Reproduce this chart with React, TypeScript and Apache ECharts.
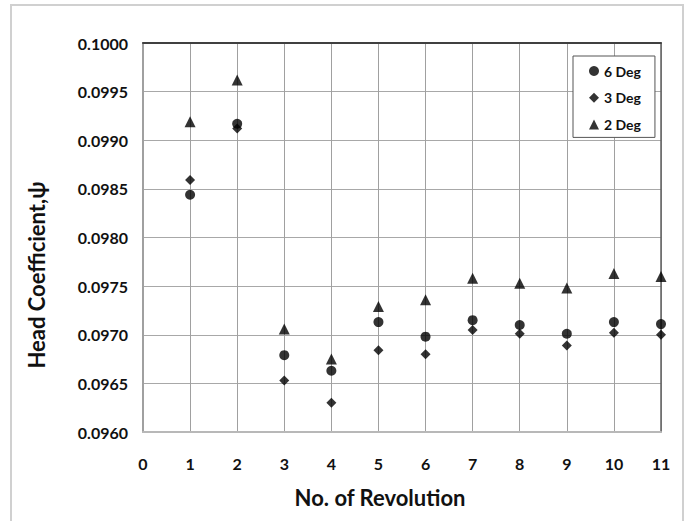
import React, { useEffect, useRef } from "react";
import * as echarts from "echarts";

const revolutions = [1, 2, 3, 4, 5, 6, 7, 8, 9, 10, 11];
const deg6 = [0.09844, 0.09917, 0.09679, 0.09663, 0.09713, 0.09698, 0.09715, 0.0971, 0.09701, 0.09713, 0.09711];
const deg3 = [0.09859, 0.09912, 0.09653, 0.0963, 0.09684, 0.0968, 0.09705, 0.09701, 0.09689, 0.09702, 0.097];
const deg2 = [0.09919, 0.09962, 0.09706, 0.09675, 0.09729, 0.09736, 0.09758, 0.09753, 0.09748, 0.09763, 0.0976];
const seriesNames = ["6 Deg", "3 Deg", "2 Deg"];
const xTitle = "No. of Revolution";
const yTitle = "Head Coefficient,ψ";

const FONT = "Lato, 'Open Sans', sans-serif";

export default function App() {
  const ref = useRef<HTMLDivElement>(null);
  useEffect(() => {
    if (!ref.current) return;
    const chart = echarts.init(ref.current, undefined, { renderer: "svg" });
    const pts = (arr: number[]) => revolutions.map((r, i) => [r, arr[i]]);
    chart.setOption({
      animation: false,
      backgroundColor: "#ffffff",
      grid: { left: 143, top: 43, right: 31, bottom: 89, containLabel: false },
      legend: {
        orient: "vertical",
        left: 573,
        top: 56,
        padding: [8, 14, 6, 16],
        itemGap: 12.7,
        itemWidth: 10,
        itemHeight: 10,
        backgroundColor: "#ffffff",
        borderColor: "#555555",
        borderWidth: 1,
        borderRadius: 0,
        data: seriesNames,
        textStyle: { fontFamily: FONT, fontWeight: "bold", fontSize: 14, lineHeight: 14, color: "#111" },
      },
      xAxis: [
        {
          type: "value",
          min: 0,
          max: 11,
          interval: 1,
          axisLine: { show: true, lineStyle: { color: "#b8b8b8", width: 2 } },
          axisTick: { show: false },
          axisLabel: { margin: 23, fontFamily: FONT, fontWeight: "bold", fontSize: 16, color: "#111" },
          splitLine: { show: true, lineStyle: { color: "#a0a0a0", width: 1 } },
        },
        {
          type: "value",
          position: "top",
          min: 0,
          max: 11,
          interval: 1,
          axisLine: { show: true, onZero: false, lineStyle: { color: "#404040", width: 2 } },
          axisTick: { show: false },
          axisLabel: { show: false },
          splitLine: { show: false },
        },
      ],
      yAxis: [
        {
          type: "value",
          min: 0.096,
          max: 0.1,
          interval: 0.0005,
          axisLine: { show: true, lineStyle: { color: "#a0a0a0", width: 2 } },
          axisTick: { show: false },
          axisLabel: {
            margin: 15,
            fontFamily: FONT,
            fontWeight: "bold",
            fontSize: 16,
            color: "#111",
            formatter: (v: number) => v.toFixed(4),
          },
          splitLine: { show: true, lineStyle: { color: "#a8a8a8", width: 1 } },
        },
        {
          type: "value",
          position: "right",
          min: 0.096,
          max: 0.1,
          interval: 0.0005,
          axisLine: { show: true, onZero: false, lineStyle: { color: "#606060", width: 1.5 } },
          axisTick: { show: false },
          axisLabel: { show: false },
          splitLine: { show: false },
        },
      ],
      graphic: [
        {
          type: "rect",
          shape: { x: 11, y: 5, width: 672, height: 540 },
          style: { fill: "none", stroke: "#d0d0d0", lineWidth: 2 },
          silent: true,
          z: -1,
        },
        {
          type: "text",
          x: 36,
          y: 275,
          rotation: Math.PI / 2,
          style: {
            text: yTitle,
            font: `bold 22px ${FONT}`,
            fill: "#111",
            textAlign: "center",
            textVerticalAlign: "middle",
          },
        },
        {
          type: "text",
          x: 380,
          y: 497,
          style: {
            text: xTitle,
            font: `bold 22px ${FONT}`,
            fill: "#111",
            textAlign: "center",
            textVerticalAlign: "middle",
          },
        },
      ],
      series: [
        {
          name: seriesNames[0],
          type: "scatter",
          symbol: "circle",
          symbolSize: 10,
          itemStyle: { color: "#000" },
          data: pts(deg6),
        },
        {
          name: seriesNames[1],
          type: "scatter",
          symbol: "diamond",
          symbolSize: 10,
          itemStyle: { color: "#000" },
          data: pts(deg3),
        },
        {
          name: seriesNames[2],
          type: "scatter",
          symbol: "triangle",
          symbolSize: 11,
          itemStyle: { color: "#000" },
          data: pts(deg2),
        },
      ],
    });
    return () => chart.dispose();
  }, []);
  return (
    <div
      ref={ref}
      style={{ position: "fixed", left: 0, top: 0, width: 692, height: 521, background: "#fff" }}
    />
  );
}
